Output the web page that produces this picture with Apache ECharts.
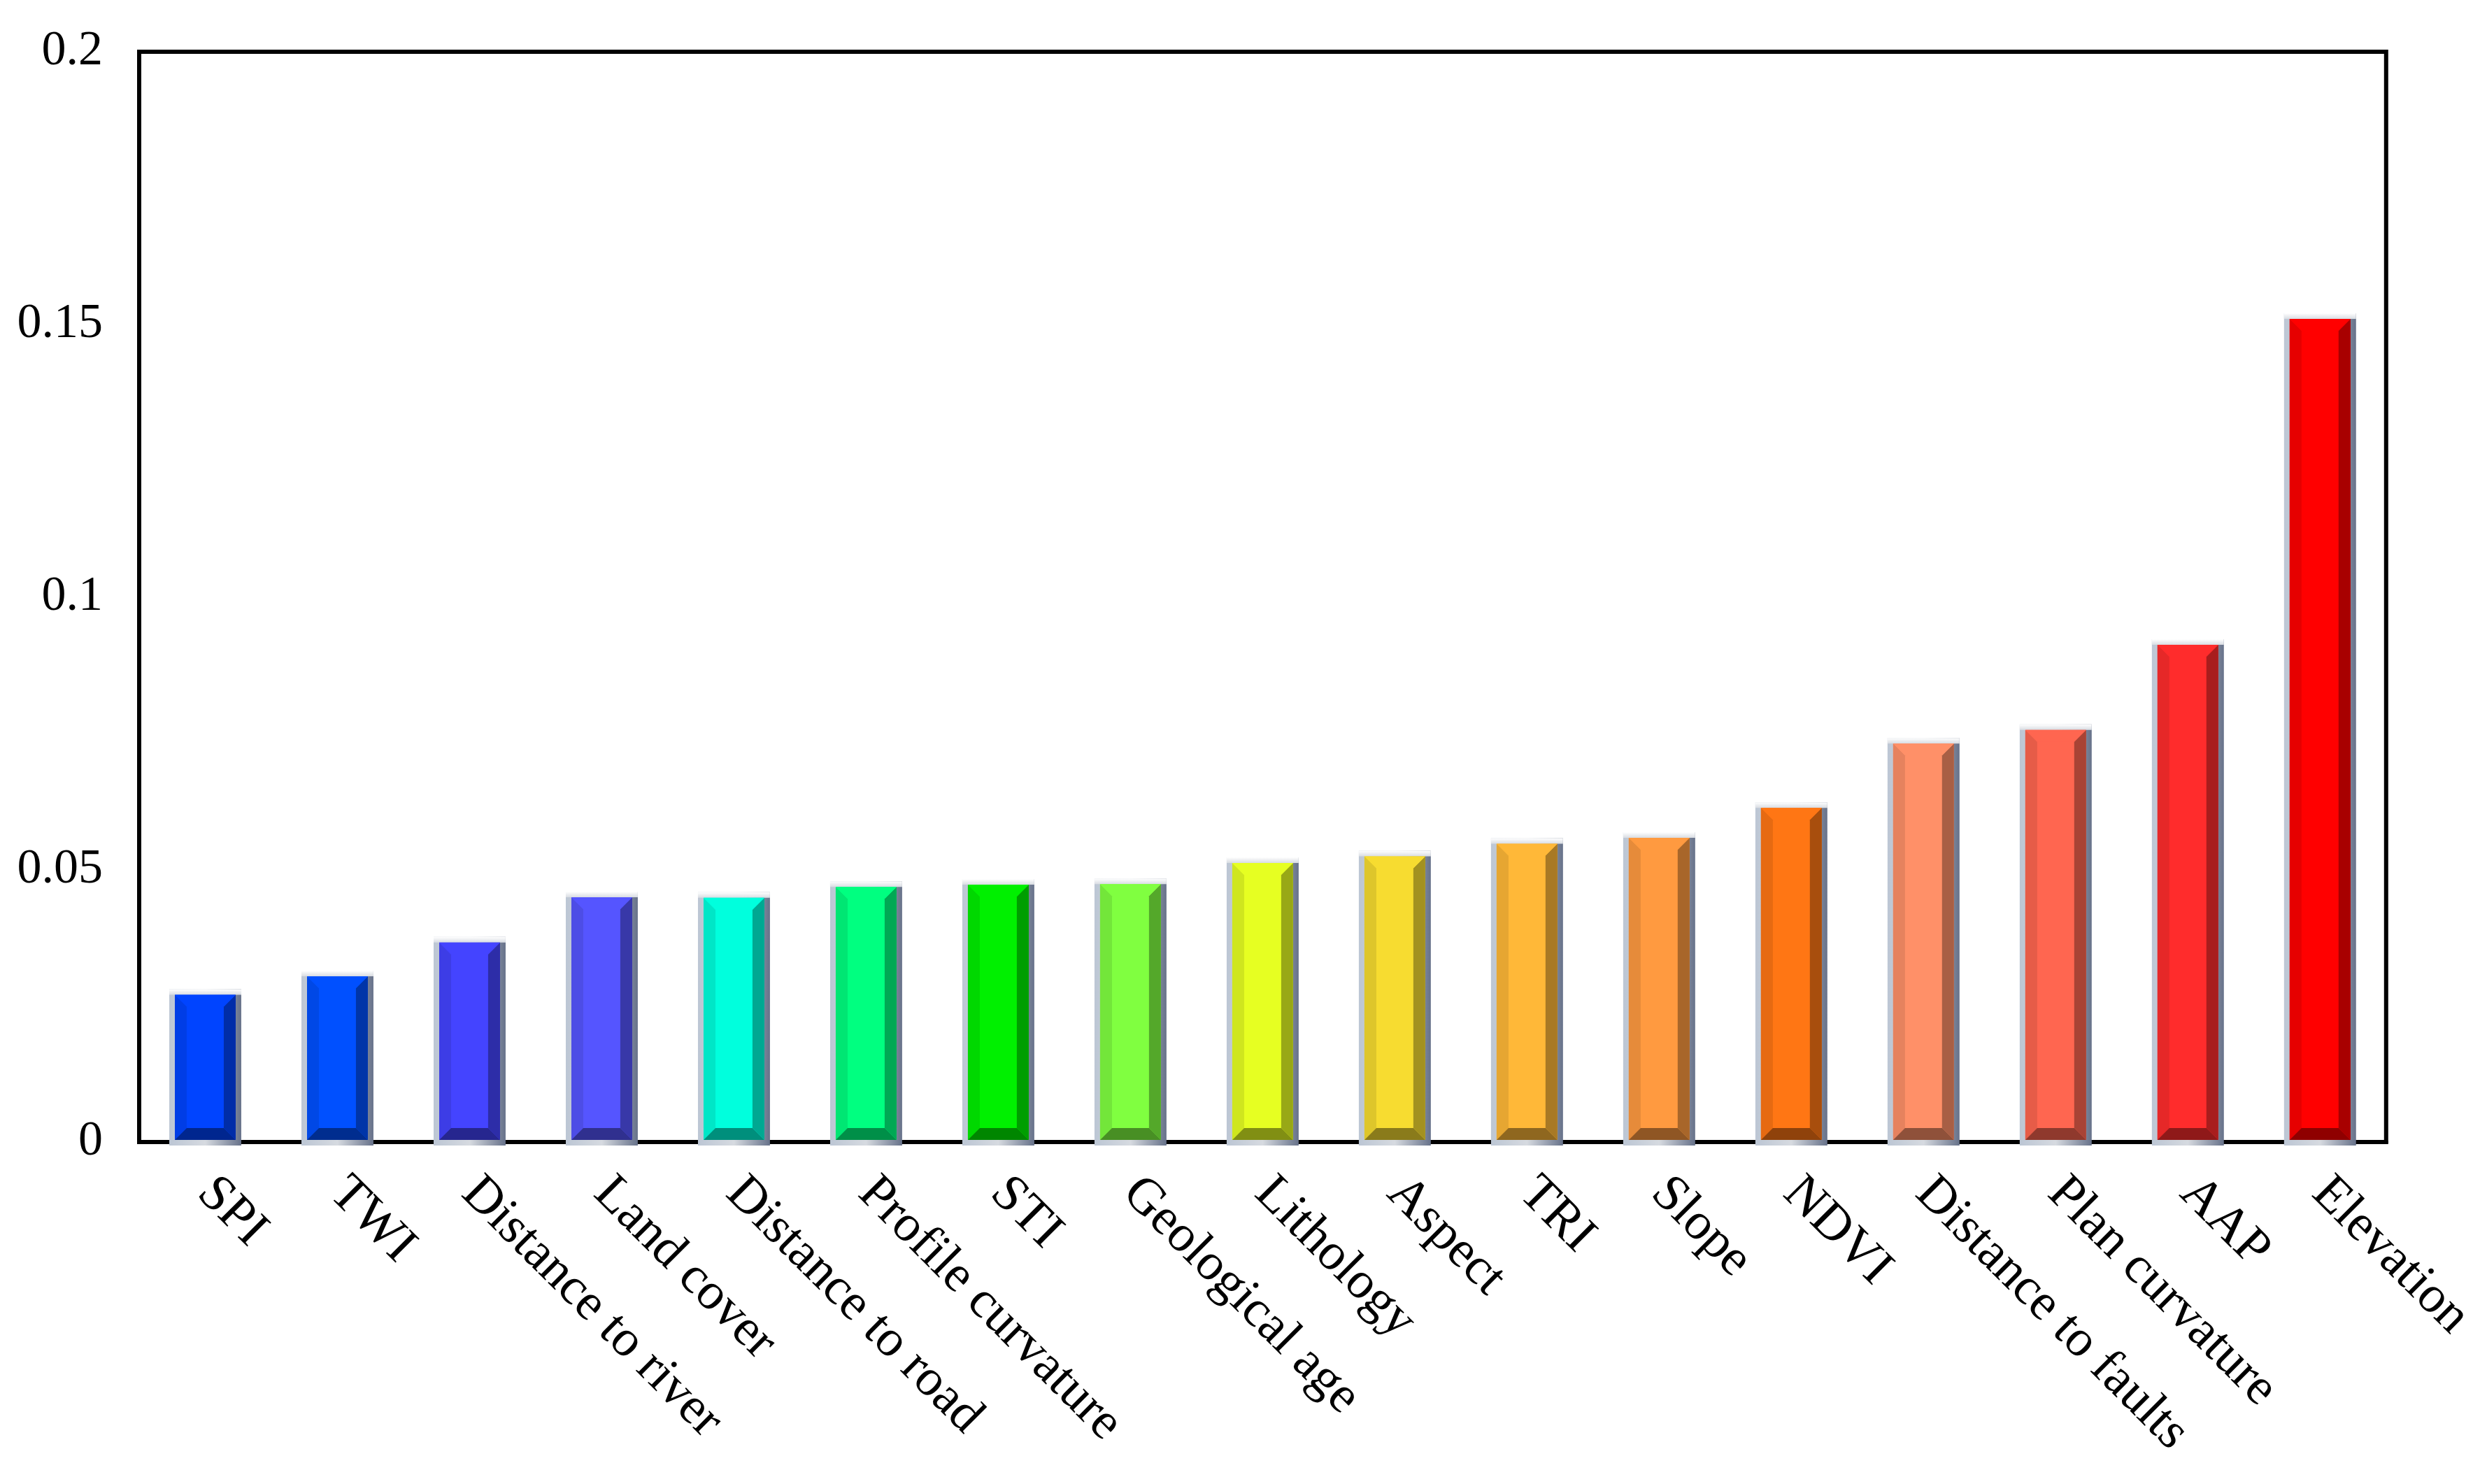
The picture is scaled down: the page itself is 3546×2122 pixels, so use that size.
<!DOCTYPE html>
<html>
<head>
<meta charset="utf-8">
<script src="https://cdn.jsdelivr.net/npm/echarts@6/dist/echarts.min.js"></script>
<style>
html,body{margin:0;padding:0;background:#fff;}
#chart{width:3546px;height:2122px;}
</style>
</head>
<body>
<div id="chart"></div>
<script>
const categories = ["SPI","TWI","Distance to river","Land cover","Distance to road","Profile curvature","STI","Geological age","Lithology","Aspect","TRI","Slope","NDVI","Distance to faults","Plan curvature","AAP","Elevation"];
const values = [0.0270,0.0304,0.0366,0.0449,0.0448,0.0468,0.0472,0.0473,0.0512,0.0524,0.0547,0.0558,0.0613,0.0731,0.0756,0.0912,0.1510];
const barColors = ["#0044ff","#0050ff","#4444ff","#5555ff","#00ffdd","#00ff80","#00f000","#80ff40","#e6ff22","#f7dc30","#ffb838","#ff9a40","#ff7614","#ff9068","#ff6650","#ff2c2c","#ff0000"];
const yTicks = [0,0.05,0.1,0.15,0.2];

function shade(hex, f){
  const n = parseInt(hex.slice(1),16);
  let r=(n>>16)&255,g=(n>>8)&255,b=n&255;
  r=Math.round(r*f);g=Math.round(g*f);b=Math.round(b*f);
  return 'rgb('+Math.min(255,r)+','+Math.min(255,g)+','+Math.min(255,b)+')';
}

const chart = echarts.init(document.getElementById('chart'));
const fontFam = '"Liberation Serif","Times New Roman",serif';

chart.setOption({
  backgroundColor:'#ffffff',
  animation:false,
  grid:{left:199,right:131,top:74,bottom:489,containLabel:false,show:true,borderColor:'#000',borderWidth:6},
  xAxis:{
    type:'category',
    data:categories,
    axisLine:{show:true,lineStyle:{color:'#000',width:6}},
    axisTick:{show:false},
    axisLabel:{rotate:-45,interval:0,color:'#000',fontSize:74,fontFamily:fontFam,margin:62}
  },
  yAxis:{
    type:'value',min:0,max:0.2,interval:0.05,
    axisLine:{show:true,lineStyle:{color:'#000',width:6}},
    axisTick:{show:false},
    splitLine:{show:false},
    axisLabel:{color:'#000',fontSize:70,fontFamily:fontFam,margin:52,
      formatter:function(v){ for(const t of yTicks){ if(Math.abs(v-t)<1e-9) return String(t);} return ''; }}
  },
  series:[{
    type:'custom',
    data:values.map((v,i)=>[i,v]),
    encode:{x:0,y:1},
    renderItem:function(params, api){
      const i = api.value(0);
      const v = api.value(1);
      const top = api.coord([i, v]);
      const base = api.coord([i, 0]);
      const cw = api.size([1,0])[0];
      const w = cw*0.46;
      const x0 = top[0]-w/2, x1 = top[0]+w/2;
      const y0 = top[1], y1 = base[1]-3;
      const b = 17;
      const c = barColors[i];
      const g = 8;
      const children = [
        {type:'rect',shape:{x:x0-g,y:y0-g,width:w+2*g,height:y1-y0+g+8},
          style:{fill:new echarts.graphic.LinearGradient(0,0,1,0,[
            {offset:0,color:'#bcc6d4'},{offset:0.5,color:'#d6dae0'},{offset:1,color:'#67728a'}])}},
        {type:'rect',shape:{x:x0-g,y:y0-g,width:w+2*g,height:g},
          style:{fill:new echarts.graphic.LinearGradient(0,0,0,1,[
            {offset:0,color:'#ffffff'},{offset:1,color:'#d8dce2'}])}},
        {type:'rect',shape:{x:x0,y:y0,width:w,height:y1-y0},style:{fill:c}},
        {type:'polygon',shape:{points:[[x0,y0],[x0+b,y0+b],[x0+b,y1-b],[x0,y1]]},style:{fill:shade(c,0.9)}},
        {type:'polygon',shape:{points:[[x1,y0],[x1-b,y0+b],[x1-b,y1-b],[x1,y1]]},style:{fill:shade(c,0.66)}},
        {type:'polygon',shape:{points:[[x0,y1],[x0+b,y1-b],[x1-b,y1-b],[x1,y1]]},style:{fill:shade(c,0.56)}},
        {type:'polygon',shape:{points:[[x0,y0],[x0+b,y0+b],[x1-b,y0+b],[x1,y0]]},style:{fill:shade(c,1.0)}}
      ];
      return {type:'group',children:children};
    },
    z:1
  }]
});
</script>
</body>
</html>
